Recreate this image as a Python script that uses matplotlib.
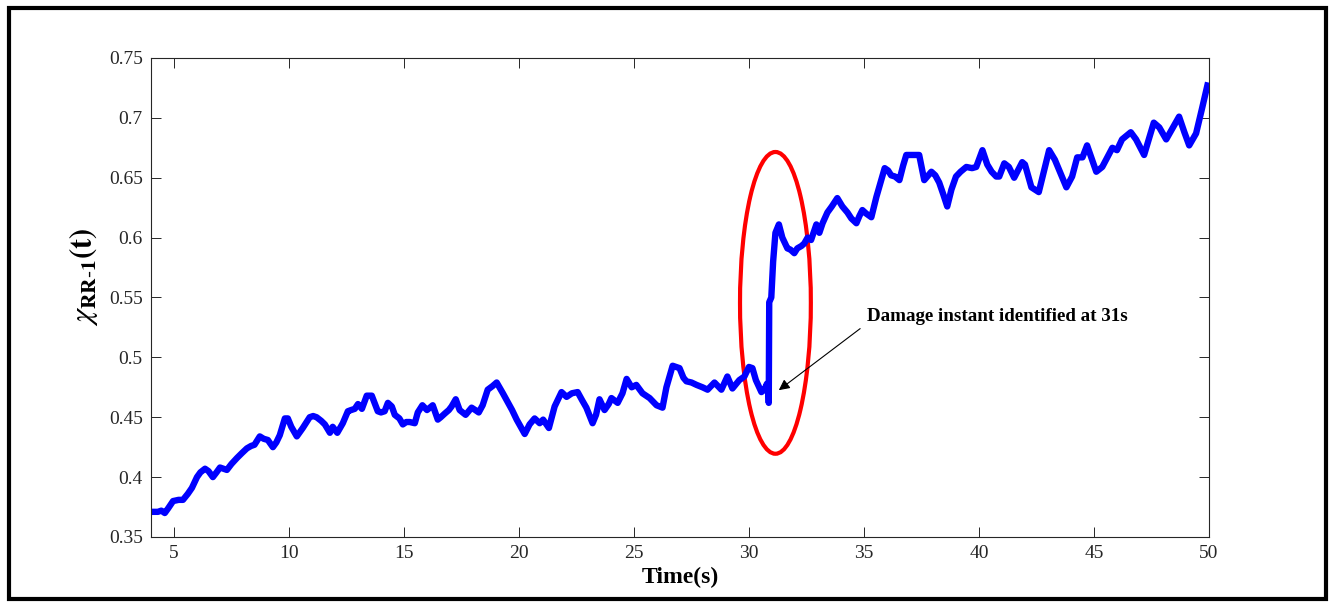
import matplotlib
matplotlib.use("Agg")
import matplotlib.pyplot as plt
from matplotlib.patches import Ellipse, Rectangle

plt.rcParams['font.family'] = ['Liberation Serif', 'DejaVu Serif']
plt.rcParams['mathtext.fontset'] = 'stix'

time = [4.0, 4.3, 4.45, 4.6, 4.75, 4.96, 5.2, 5.39, 5.6, 5.78, 6.0, 6.15, 6.35, 6.5, 6.69,
        6.85, 7.0, 7.15, 7.3, 7.5, 7.74, 7.95, 8.17, 8.35, 8.5, 8.73, 8.9, 9.08, 9.3, 9.45,
        9.6, 9.82, 9.95, 10.1, 10.34, 10.6, 10.9, 11.05, 11.2, 11.4, 11.56, 11.78, 11.9, 12.1,
        12.34, 12.56, 12.7, 12.86, 13.0, 13.17, 13.38, 13.6, 13.86, 14.0, 14.16, 14.3, 14.47,
        14.6, 14.8, 14.95, 15.1, 15.25, 15.47, 15.6, 15.8, 16.0, 16.25, 16.47, 16.6, 16.77,
        16.95, 17.07, 17.25, 17.42, 17.68, 17.94, 18.1, 18.25, 18.42, 18.64, 18.85, 19.03,
        19.3, 19.5, 19.7, 19.9, 20.25, 20.46, 20.68, 20.9, 21.05, 21.3, 21.55, 21.85, 22.07,
        22.3, 22.55, 22.75, 22.93, 23.2, 23.35, 23.5, 23.72, 23.9, 24.02, 24.29, 24.5, 24.68,
        24.9, 25.1, 25.37, 25.68, 25.98, 26.24, 26.41, 26.68, 26.98, 27.15, 27.28, 27.5,
        27.72, 27.98, 28.2, 28.5, 28.8, 29.06, 29.28, 29.58, 29.8, 30.0, 30.15, 30.3, 30.54,
        30.67, 30.78, 30.85, 30.86, 30.88, 30.97, 31.05, 31.15, 31.3, 31.45, 31.67, 31.8,
        31.97, 32.1, 32.28, 32.4, 32.55, 32.7, 32.93, 33.06, 33.2, 33.41, 33.6, 33.84, 34.06,
        34.28, 34.45, 34.67, 34.8, 34.93, 35.1, 35.32, 35.54, 35.9, 36.05, 36.18, 36.35,
        36.54, 36.7, 36.84, 37.1, 37.4, 37.62, 37.93, 38.1, 38.27, 38.45, 38.62, 38.8, 39.0,
        39.2, 39.45, 39.7, 39.88, 40.15, 40.36, 40.55, 40.75, 40.88, 41.1, 41.3, 41.53,
        41.88, 42.0, 42.28, 42.6, 43.05, 43.3, 43.8, 44.05, 44.27, 44.5, 44.7, 45.1, 45.36,
        45.8, 46.0, 46.22, 46.6, 46.83, 47.18, 47.6, 47.84, 48.14, 48.7, 48.93, 49.14, 49.44,
        49.7, 49.93]
chi = [0.371, 0.371, 0.372, 0.370, 0.374, 0.380, 0.381, 0.381, 0.386, 0.391, 0.400, 0.404,
       0.407, 0.405, 0.400, 0.404, 0.408, 0.407, 0.406, 0.411, 0.416, 0.420, 0.424, 0.426,
       0.427, 0.434, 0.432, 0.431, 0.425, 0.429, 0.435, 0.449, 0.449, 0.442, 0.434, 0.441,
       0.450, 0.451, 0.450, 0.447, 0.444, 0.437, 0.442, 0.437, 0.445, 0.455, 0.456, 0.457,
       0.461, 0.457, 0.468, 0.468, 0.455, 0.454, 0.455, 0.462, 0.459, 0.452, 0.449, 0.444,
       0.446, 0.446, 0.445, 0.454, 0.460, 0.456, 0.460, 0.448, 0.450, 0.453, 0.456, 0.459,
       0.465, 0.456, 0.452, 0.458, 0.456, 0.454, 0.460, 0.473, 0.476, 0.479, 0.470, 0.463,
       0.456, 0.448, 0.436, 0.444, 0.449, 0.445, 0.448, 0.441, 0.459, 0.471, 0.467, 0.470,
       0.471, 0.464, 0.458, 0.445, 0.452, 0.465, 0.456, 0.461, 0.466, 0.462, 0.470, 0.482,
       0.475, 0.477, 0.470, 0.466, 0.460, 0.458, 0.475, 0.493, 0.491, 0.483, 0.480, 0.479,
       0.477, 0.475, 0.473, 0.479, 0.473, 0.484, 0.474, 0.481, 0.484, 0.492, 0.491, 0.481,
       0.471, 0.473, 0.478, 0.470, 0.462, 0.546, 0.550, 0.580, 0.604, 0.611, 0.600, 0.591,
       0.590, 0.587, 0.591, 0.593, 0.595, 0.600, 0.598, 0.611, 0.604, 0.612, 0.621, 0.626,
       0.633, 0.626, 0.621, 0.616, 0.612, 0.618, 0.623, 0.620, 0.617, 0.634, 0.658, 0.656,
       0.652, 0.651, 0.648, 0.660, 0.669, 0.669, 0.669, 0.648, 0.655, 0.652, 0.646, 0.636,
       0.626, 0.640, 0.651, 0.655, 0.659, 0.658, 0.659, 0.673, 0.661, 0.655, 0.651, 0.651,
       0.662, 0.659, 0.650, 0.663, 0.661, 0.642, 0.638, 0.673, 0.665, 0.642, 0.651, 0.667,
       0.667, 0.677, 0.655, 0.659, 0.675, 0.673, 0.682, 0.688, 0.682, 0.669, 0.696, 0.692,
       0.682, 0.701, 0.688, 0.677, 0.687, 0.708, 0.727]

xticks = [5, 10, 15, 20, 25, 30, 35, 40, 45, 50]
yticks = [0.35, 0.4, 0.45, 0.5, 0.55, 0.6, 0.65, 0.7, 0.75]
ytick_labels = ["0.35", "0.4", "0.45", "0.5", "0.55", "0.6", "0.65", "0.7", "0.75"]

fig = plt.figure(figsize=(13.35, 6.02), dpi=100)
ax = fig.add_axes([0.1131, 0.108, 0.7925, 0.7957])

ax.plot(time, chi, color="#0000FF", lw=4.6, solid_joinstyle="round")

# red ellipse around damage instant
ell = Ellipse((31.15, 0.5455), width=3.08, height=0.252, fill=False,
              edgecolor="#FF0000", lw=3.0)
ax.add_patch(ell)

ax.annotate("", xy=(31.2, 0.4712), xytext=(34.93, 0.5254),
            arrowprops=dict(arrowstyle="-|>", color="black", lw=0.8, mutation_scale=16))
ax.text(35.15, 0.534, "Damage instant identified at 31s", fontsize=13.7,
        fontweight="bold", ha="left", va="center")

ax.set_xlim(4, 50)
ax.set_ylim(0.35, 0.75)
ax.set_xticks(xticks)
ax.set_yticks(yticks)
ax.set_yticklabels(ytick_labels)
ax.tick_params(direction="in", top=True, right=True, length=7.5, width=0.7,
               labelsize=14, colors="#262626", pad=6)
for sp in ax.spines.values():
    sp.set_color("#262626")
    sp.set_linewidth(0.8)

ax.set_xlabel("Time(s)", fontsize=17, fontweight="bold", labelpad=3)
ax.set_ylabel(r"$\chi_{\mathbf{RR\text{-}1}}\mathbf{(t)}$", fontsize=22)
ax.yaxis.set_label_coords(-0.048, 0.543)

# black frame round the figure
fig.patches.append(Rectangle((0.0064, 0.005), 0.9872, 0.9825, transform=fig.transFigure,
                             fill=False, edgecolor="black", lw=3.0))

plt.savefig("out.png", dpi=100)
